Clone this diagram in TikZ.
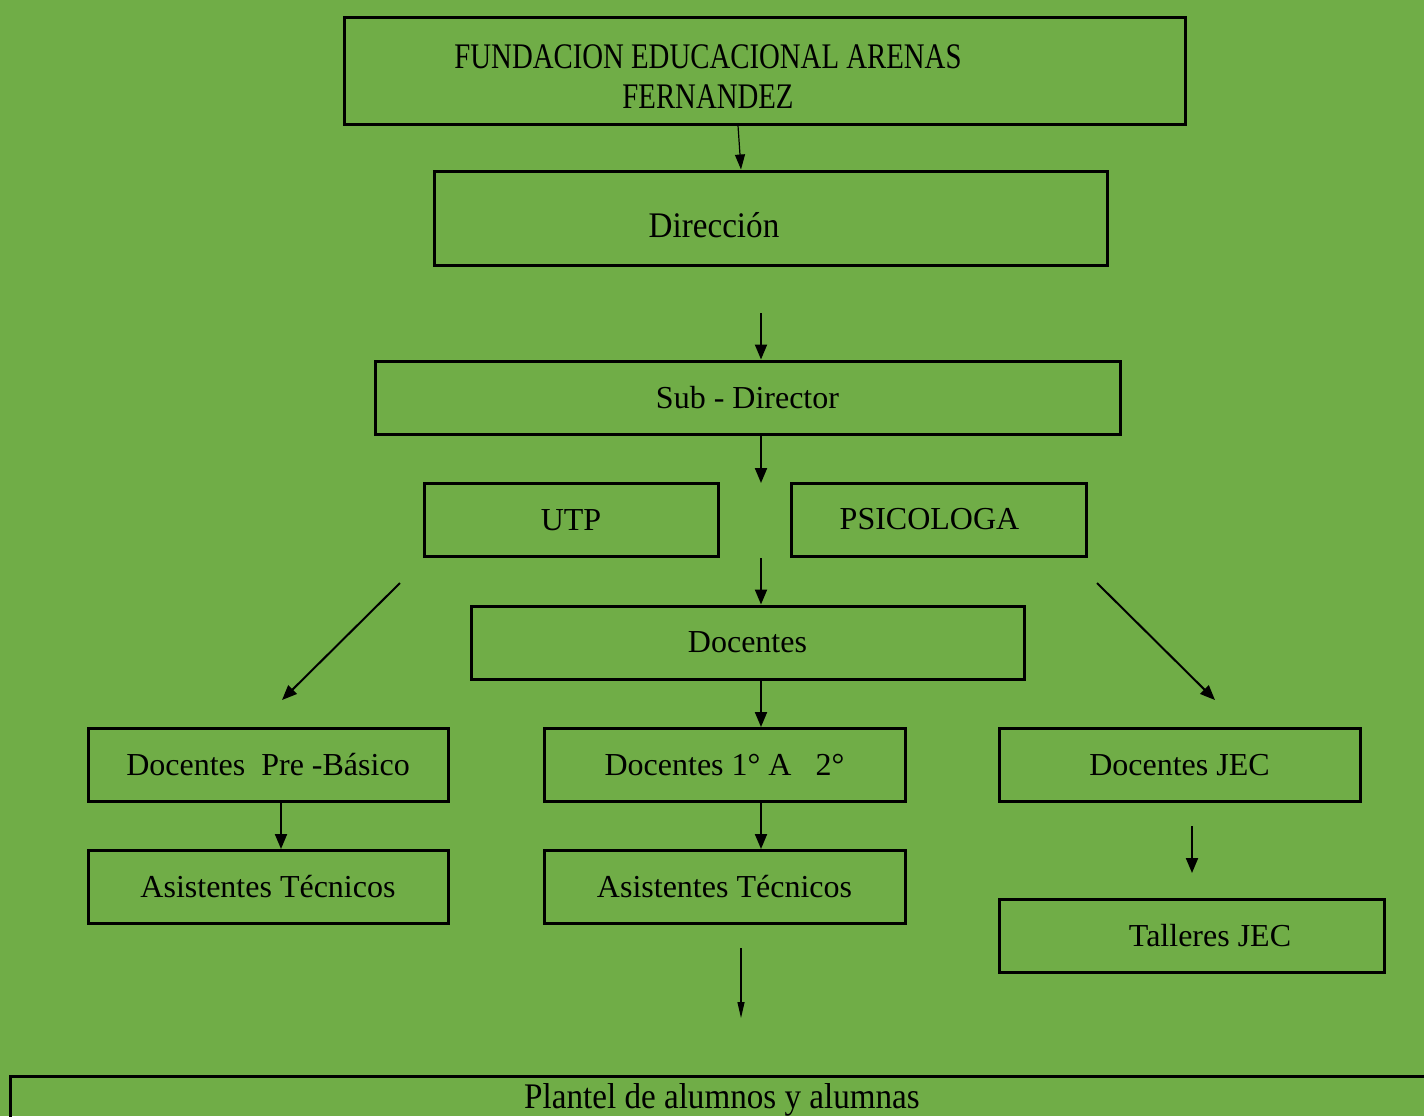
\documentclass[tikz,border=0pt]{standalone}
\usepackage{fontspec}
\setmainfont{Liberation Serif}
\newfontfamily\narrowfont[FakeStretch=0.8]{Liberation Serif}
\newfontfamily\halfnarrowfont[FakeStretch=0.92]{Liberation Serif}
\usetikzlibrary{arrows.meta}
\definecolor{bggreen}{HTML}{70AD47}

\begin{document}
\begin{tikzpicture}[x=0.5pt,y=-0.5pt,
  box/.style={draw,line width=1.5pt,inner sep=0pt,minimum height=36.5pt,
    font=\fontsize{16}{20}\selectfont},
  narrowtxt/.style={font=\narrowfont\fontsize{18}{20}\selectfont,align=center},
  halfnarrowtxt/.style={font=\halfnarrowfont\fontsize{18}{20}\selectfont},
  link/.style={line width=1pt,-{Triangle[length=7.5pt,width=6pt]}},
  toplink/.style={line width=0.6pt,-{Triangle[length=7.5pt,width=5pt]}},
  thinlink/.style={line width=0.6pt,-{Triangle[length=8pt,width=3.5pt]}}]
 \clip (0,0) rectangle (1424,1116);
 \fill[bggreen] (0,0) rectangle (1424,1116);
 % top of the chart
 \node[box,minimum width=420.5pt,minimum height=53.5pt,
   label={[narrowtxt,xshift=-28.25pt,yshift=-3.25pt]center:FUNDACION EDUCACIONAL ARENAS\\FERNANDEZ}]
   (fundacion) at (764.5,70.5) {};
 \node[box,minimum width=336.5pt,minimum height=47pt,
   label={[halfnarrowtxt,xshift=-28.25pt,yshift=-3.5pt]center:Dirección}]
   (direccion) at (770.5,218) {};
 \node[box,minimum width=372.5pt] (subdir) at (747.5,397.5) {Sub - Director};
 \node[box,minimum width=147pt] (utp) at (571,520) {UTP};
 \node[box,minimum width=147.5pt,
   label={[font=\fontsize{16}{20}\selectfont,xshift=-4.5pt]center:PSICOLOGA}]
   (psico) at (938.5,519.5) {};
 \node[box,minimum width=276.5pt] (docentes) at (747.5,642.5) {Docentes};
 % teachers
 \node[box,minimum width=180pt] (prebasico) at (268,765) {Docentes\ \ Pre -Básico};
 \node[box,minimum width=180.5pt] (primero) at (724.5,765) {Docentes 1° A\ \ \ 2°};
 \node[box,minimum width=180.5pt] (jec) at (1179.5,765) {Docentes JEC};
 \node[box,minimum width=180pt] (asist1) at (268,887) {Asistentes Técnicos};
 \node[box,minimum width=180.5pt] (asist2) at (724.5,887) {Asistentes Técnicos};
 \node[box,minimum width=192.5pt,
   label={[font=\fontsize{16}{20}\selectfont,xshift=9.25pt]center:Talleres JEC}]
   (talleres) at (1191.5,935.5) {};
 \node[box,minimum width=715pt,minimum height=22pt,
   label={[halfnarrowtxt,xshift=-1.5pt,yshift=-1pt]center:Plantel de alumnos y alumnas}]
   (plantel) at (725,1098) {};
 % free arrow ends
 \coordinate (d1) at (761,313);
 \coordinate (d2) at (761,483);
 \coordinate (d3) at (761,558);
 \coordinate (l1) at (400,583);
 \coordinate (l2) at (282,700);
 \coordinate (r1) at (1097,583);
 \coordinate (r2) at (1215,700);
 \coordinate (j1) at (1192,826);
 \coordinate (j2) at (1192,873);
 \coordinate (p1) at (741,948);
 \coordinate (p2) at (741,1018);
 % arrows
 \draw[toplink] ([xshift=-13.25pt]fundacion.south) -- ([xshift=-14.75pt]direccion.north);
 \draw[link] (d1) -- (d1 |- subdir.north);
 \draw[link] (d2 |- subdir.south) -- (d2);
 \draw[link] (d3) -- (d3 |- docentes.north);
 \draw[link] (l1) -- (l2);
 \draw[link] (r1) -- (r2);
 \draw[link] (d3 |- docentes.south) -- (d3 |- primero.north);
 \draw[link] ([xshift=6.5pt]prebasico.south) -- ([xshift=6.5pt]asist1.north);
 \draw[link] (d3 |- primero.south) -- (d3 |- asist2.north);
 \draw[link] (j1) -- (j2);
 \draw[thinlink] (p1) -- (p2);
\end{tikzpicture}
\end{document}
